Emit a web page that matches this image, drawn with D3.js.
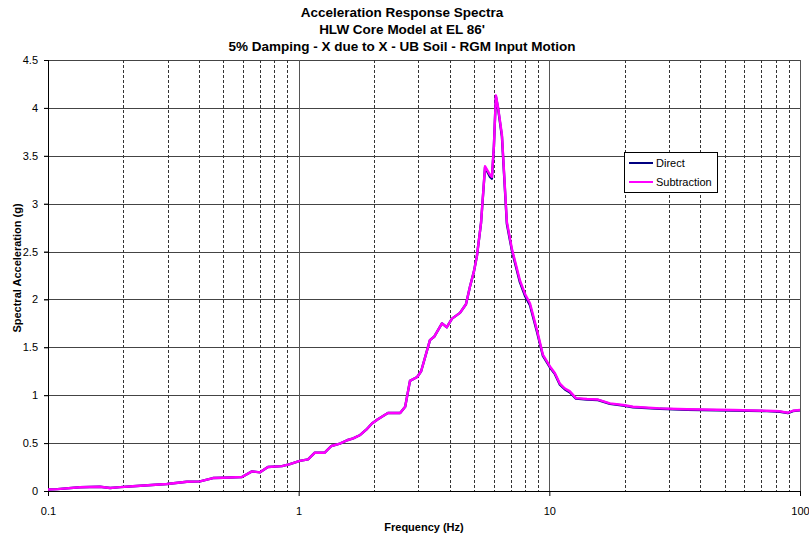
<!DOCTYPE html>
<html>
<head>
<meta charset="utf-8">
<script src="https://cdn.jsdelivr.net/npm/d3@7"></script>
<style>
  body { margin: 0; background: #fff; }
  svg { font-family: "Liberation Sans", Arial, sans-serif; }
</style>
</head>
<body>
<svg id="chart"></svg>
<script>
const titleLines = [
  'Acceleration Response Spectra',
  "HLW Core Model at EL 86'",
  '5% Damping - X due to X - UB Soil - RGM Input Motion'
];
const seriesNames = ['Direct', 'Subtraction'];
const yTicks = [0, 0.5, 1, 1.5, 2, 2.5, 3, 3.5, 4, 4.5];
const xTicks = [0.1, 1, 10, 100];

// frequency (Hz)
const freq = [
  0.1, 0.109, 0.134, 0.161, 0.177, 0.194, 0.218, 0.298, 0.358, 0.404,
  0.455, 0.499, 0.594, 0.651, 0.701, 0.754, 0.858, 0.923, 1.01, 1.09,
  1.16, 1.27, 1.35, 1.46, 1.56, 1.65, 1.76, 1.86, 1.96, 2.07,
  2.27, 2.54, 2.66, 2.78, 2.97, 3.08, 3.34, 3.47, 3.73, 3.9,
  4.09, 4.4, 4.65, 4.82, 5.0, 5.14, 5.34, 5.54, 5.8, 5.9,
  6.01, 6.12, 6.24, 6.47, 6.77, 7.09, 7.63, 7.99, 8.37, 8.93,
  9.43, 10.06, 10.53, 11.02, 11.54, 12.08, 12.77, 14.13, 15.63, 17.45,
  19.67, 21.56, 27.62, 35.39, 54.0, 73.8, 83.2, 89.5, 93.7, 100
];
// spectral acceleration (g)
const direct = [
  0.015, 0.02, 0.039, 0.045, 0.032, 0.04, 0.05, 0.073, 0.097, 0.1,
  0.135, 0.138, 0.146, 0.205, 0.195, 0.25, 0.26, 0.28, 0.315, 0.33,
  0.4, 0.4, 0.47, 0.495, 0.53, 0.55, 0.585, 0.64, 0.705, 0.75,
  0.815, 0.815, 0.88, 1.15, 1.19, 1.25, 1.575, 1.61, 1.75, 1.71,
  1.8, 1.86, 1.95, 2.13, 2.29, 2.45, 2.8, 3.38, 3.28, 3.26,
  3.6, 4.12, 4.0, 3.7, 2.79, 2.51, 2.18, 2.04, 1.94, 1.66,
  1.41, 1.29, 1.22, 1.11, 1.06, 1.03, 0.965, 0.955, 0.95, 0.91,
  0.893, 0.875, 0.858, 0.848, 0.84, 0.834, 0.828, 0.814, 0.835, 0.842
];
const subtraction = [
  0.015, 0.02, 0.039, 0.045, 0.032, 0.04, 0.05, 0.073, 0.097, 0.1,
  0.135, 0.138, 0.146, 0.205, 0.195, 0.25, 0.26, 0.28, 0.315, 0.33,
  0.4, 0.4, 0.47, 0.495, 0.53, 0.55, 0.585, 0.64, 0.705, 0.75,
  0.815, 0.815, 0.88, 1.15, 1.19, 1.25, 1.575, 1.61, 1.75, 1.71,
  1.8, 1.86, 1.95, 2.13, 2.29, 2.45, 2.8, 3.39, 3.3, 3.28,
  3.6, 4.13, 4.01, 3.72, 2.81, 2.53, 2.2, 2.06, 1.96, 1.68,
  1.42, 1.3, 1.23, 1.12, 1.07, 1.04, 0.97, 0.96, 0.955, 0.915,
  0.898, 0.88, 0.863, 0.853, 0.845, 0.838, 0.832, 0.817, 0.838, 0.845
];

const W = 809, H = 539;
const margin = { top: 60, right: 9, bottom: 48, left: 48 };
const width = W - margin.left - margin.right;
const height = H - margin.top - margin.bottom;

const svg = d3.select('#chart').attr('width', W).attr('height', H);
svg.append('rect').attr('width', W).attr('height', H).style('fill', 'white');

// titles
svg.append('g').attr('class', 'title')
  .selectAll('text').data(titleLines).join('text')
  .attr('x', 402).attr('y', (d, i) => 17 + i * 17)
  .attr('text-anchor', 'middle')
  .style('font-weight', 'bold').style('font-size', '13.5px')
  .text(d => d);

const x = d3.scaleLog().domain([0.1, 100]).range([0, width]);
const y = d3.scaleLinear().domain([0, 4.5]).range([height, 0]);

const g = svg.append('g')
  .attr('transform', `translate(${margin.left}, ${margin.top})`);

// grid: horizontal
g.append('g').attr('class', 'grid--y')
  .selectAll('line').data(yTicks.filter(d => d > 0)).join('line')
  .attr('x1', -4).attr('x2', width)
  .attr('y1', d => Math.round(y(d)) + 0.5).attr('y2', d => Math.round(y(d)) + 0.5)
  .style('stroke', '#444').style('stroke-width', 1);

// grid: vertical minor (dashed) and major (solid)
const minor = [];
[0.1, 1, 10].forEach(dec => { for (let k = 2; k <= 9; k++) minor.push(dec * k); });
g.append('g').attr('class', 'grid--x-minor')
  .selectAll('line').data(minor).join('line')
  .attr('x1', d => Math.round(x(d)) + 0.5).attr('x2', d => Math.round(x(d)) + 0.5)
  .attr('y1', 0).attr('y2', height)
  .style('stroke', '#333').style('stroke-width', 1)
  .style('stroke-dasharray', '3,2');

g.append('g').attr('class', 'grid--x-major')
  .selectAll('line').data(xTicks.slice(1)).join('line')
  .attr('x1', d => Math.round(x(d)) + 0.5).attr('x2', d => Math.round(x(d)) + 0.5)
  .attr('y1', 0).attr('y2', height)
  .style('stroke', '#555').style('stroke-width', 1);

// axes
const yAxis = d3.axisLeft(y).tickValues(yTicks).tickFormat(d3.format('')).tickSize(4).tickPadding(6);
const xAxis = d3.axisBottom(x).tickValues(xTicks).tickFormat(d => String(d)).tickSize(5).tickPadding(11);

const axY = g.append('g').attr('class', 'axis--y').call(yAxis);
const axX = g.append('g').attr('class', 'axis--x')
  .attr('transform', `translate(0, ${height})`).call(xAxis);
[axY, axX].forEach(a => {
  a.select('.domain').style('stroke', '#000');
  a.selectAll('.tick line').style('stroke', '#000');
  a.selectAll('.tick text').style('font-size', '11px').style('fill', '#000')
    .style('font-family', '"Liberation Sans", Arial, sans-serif');
});
axY.select('.domain').attr('d', `M0.5,0V${height}`);
axX.select('.domain').attr('d', `M0,0.5H${width}`);

// lines
const data = [
  { name: 'Direct', values: direct, color: '#000080', w: 2.4 },
  { name: 'Subtraction', values: subtraction, color: '#ff00ff', w: 2.4 }
];
const line = d3.line().x(d => x(d[0])).y(d => y(d[1]));
g.append('g').attr('class', 'series')
  .selectAll('path').data(data).join('path')
  .attr('d', s => line(freq.map((f, i) => [f, s.values[i]])))
  .style('fill', 'none')
  .style('stroke', s => s.color)
  .style('stroke-width', s => s.w)
  .style('stroke-linejoin', 'round');

// axis titles
svg.append('text')
  .attr('x', 424).attr('y', 531)
  .attr('text-anchor', 'middle')
  .style('font-weight', 'bold').style('font-size', '11px')
  .text('Frequency (Hz)');
svg.append('text')
  .attr('transform', 'translate(21, 268) rotate(-90)')
  .attr('text-anchor', 'middle')
  .style('font-weight', 'bold').style('font-size', '11px')
  .text('Spectral Acceleration (g)');

// legend
const legend = svg.append('g').attr('class', 'legend').attr('transform', 'translate(624, 152)');
legend.append('rect')
  .attr('x', 0.5).attr('y', 0.5).attr('width', 93).attr('height', 40)
  .style('fill', 'white').style('stroke', '#000');
const item = legend.selectAll('g.item').data(data).join('g')
  .attr('class', 'item')
  .attr('transform', (d, i) => `translate(0, ${11 + i * 19})`);
item.append('line')
  .attr('x1', 5).attr('x2', 29).attr('y1', 0).attr('y2', 0)
  .style('stroke', d => d.color).style('stroke-width', 2);
item.append('text')
  .attr('x', 32).attr('y', 4)
  .style('font-size', '11px')
  .text(d => d.name);
</script>
</body>
</html>
